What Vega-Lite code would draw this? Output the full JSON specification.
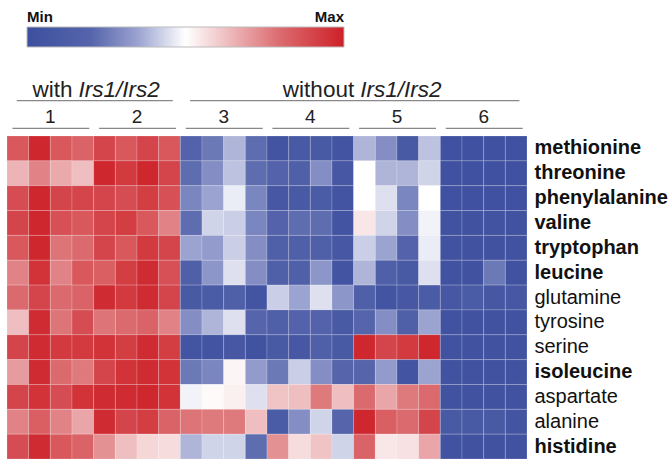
{
"$schema": "https://vega.github.io/schema/vega-lite/v6.json",
"width": 520, "height": 323,
"autosize": {"type": "none"},
"padding": {"left": 7, "top": 136, "right": 144, "bottom": 0},
"config": {"view": {"stroke": null}, "font": "Liberation Sans"},
"layer": [
{
"data": {"values": [
{"aa":"methionine","rep":1,"v":0.85},{"aa":"methionine","rep":2,"v":0.98},{"aa":"methionine","rep":3,"v":0.85},{"aa":"methionine","rep":4,"v":0.82},{"aa":"methionine","rep":5,"v":0.9},{"aa":"methionine","rep":6,"v":0.85},{"aa":"methionine","rep":7,"v":0.9},{"aa":"methionine","rep":8,"v":0.85},{"aa":"methionine","rep":9,"v":0.18},{"aa":"methionine","rep":10,"v":0.25},{"aa":"methionine","rep":11,"v":0.38},{"aa":"methionine","rep":12,"v":0.22},{"aa":"methionine","rep":13,"v":0.05},{"aa":"methionine","rep":14,"v":0.1},{"aa":"methionine","rep":15,"v":0.1},{"aa":"methionine","rep":16,"v":0.05},{"aa":"methionine","rep":17,"v":0.38},{"aa":"methionine","rep":18,"v":0.3},{"aa":"methionine","rep":19,"v":0.1},{"aa":"methionine","rep":20,"v":0.4},{"aa":"methionine","rep":21,"v":0.02},{"aa":"methionine","rep":22,"v":0.02},{"aa":"methionine","rep":23,"v":0.02},{"aa":"methionine","rep":24,"v":0.02},
{"aa":"threonine","rep":1,"v":0.65},{"aa":"threonine","rep":2,"v":0.75},{"aa":"threonine","rep":3,"v":0.67},{"aa":"threonine","rep":4,"v":0.63},{"aa":"threonine","rep":5,"v":0.98},{"aa":"threonine","rep":6,"v":0.93},{"aa":"threonine","rep":7,"v":0.98},{"aa":"threonine","rep":8,"v":0.9},{"aa":"threonine","rep":9,"v":0.22},{"aa":"threonine","rep":10,"v":0.3},{"aa":"threonine","rep":11,"v":0.4},{"aa":"threonine","rep":12,"v":0.22},{"aa":"threonine","rep":13,"v":0.18},{"aa":"threonine","rep":14,"v":0.15},{"aa":"threonine","rep":15,"v":0.3},{"aa":"threonine","rep":16,"v":0.08},{"aa":"threonine","rep":17,"v":0.5},{"aa":"threonine","rep":18,"v":0.38},{"aa":"threonine","rep":19,"v":0.38},{"aa":"threonine","rep":20,"v":0.43},{"aa":"threonine","rep":21,"v":0.02},{"aa":"threonine","rep":22,"v":0.02},{"aa":"threonine","rep":23,"v":0.02},{"aa":"threonine","rep":24,"v":0.02},
{"aa":"phenylalanine","rep":1,"v":0.88},{"aa":"phenylalanine","rep":2,"v":0.98},{"aa":"phenylalanine","rep":3,"v":0.9},{"aa":"phenylalanine","rep":4,"v":0.9},{"aa":"phenylalanine","rep":5,"v":0.9},{"aa":"phenylalanine","rep":6,"v":0.88},{"aa":"phenylalanine","rep":7,"v":0.92},{"aa":"phenylalanine","rep":8,"v":0.87},{"aa":"phenylalanine","rep":9,"v":0.28},{"aa":"phenylalanine","rep":10,"v":0.35},{"aa":"phenylalanine","rep":11,"v":0.47},{"aa":"phenylalanine","rep":12,"v":0.28},{"aa":"phenylalanine","rep":13,"v":0.08},{"aa":"phenylalanine","rep":14,"v":0.1},{"aa":"phenylalanine","rep":15,"v":0.12},{"aa":"phenylalanine","rep":16,"v":0.05},{"aa":"phenylalanine","rep":17,"v":0.5},{"aa":"phenylalanine","rep":18,"v":0.45},{"aa":"phenylalanine","rep":19,"v":0.28},{"aa":"phenylalanine","rep":20,"v":0.5},{"aa":"phenylalanine","rep":21,"v":0.02},{"aa":"phenylalanine","rep":22,"v":0.02},{"aa":"phenylalanine","rep":23,"v":0.02},{"aa":"phenylalanine","rep":24,"v":0.02},
{"aa":"valine","rep":1,"v":0.9},{"aa":"valine","rep":2,"v":0.98},{"aa":"valine","rep":3,"v":0.87},{"aa":"valine","rep":4,"v":0.85},{"aa":"valine","rep":5,"v":0.9},{"aa":"valine","rep":6,"v":0.92},{"aa":"valine","rep":7,"v":0.85},{"aa":"valine","rep":8,"v":0.75},{"aa":"valine","rep":9,"v":0.22},{"aa":"valine","rep":10,"v":0.43},{"aa":"valine","rep":11,"v":0.42},{"aa":"valine","rep":12,"v":0.28},{"aa":"valine","rep":13,"v":0.18},{"aa":"valine","rep":14,"v":0.22},{"aa":"valine","rep":15,"v":0.22},{"aa":"valine","rep":16,"v":0.05},{"aa":"valine","rep":17,"v":0.55},{"aa":"valine","rep":18,"v":0.43},{"aa":"valine","rep":19,"v":0.3},{"aa":"valine","rep":20,"v":0.48},{"aa":"valine","rep":21,"v":0.03},{"aa":"valine","rep":22,"v":0.03},{"aa":"valine","rep":23,"v":0.04},{"aa":"valine","rep":24,"v":0.03},
{"aa":"tryptophan","rep":1,"v":0.85},{"aa":"tryptophan","rep":2,"v":0.98},{"aa":"tryptophan","rep":3,"v":0.78},{"aa":"tryptophan","rep":4,"v":0.8},{"aa":"tryptophan","rep":5,"v":0.9},{"aa":"tryptophan","rep":6,"v":0.85},{"aa":"tryptophan","rep":7,"v":0.93},{"aa":"tryptophan","rep":8,"v":0.9},{"aa":"tryptophan","rep":9,"v":0.35},{"aa":"tryptophan","rep":10,"v":0.33},{"aa":"tryptophan","rep":11,"v":0.42},{"aa":"tryptophan","rep":12,"v":0.3},{"aa":"tryptophan","rep":13,"v":0.15},{"aa":"tryptophan","rep":14,"v":0.15},{"aa":"tryptophan","rep":15,"v":0.15},{"aa":"tryptophan","rep":16,"v":0.08},{"aa":"tryptophan","rep":17,"v":0.42},{"aa":"tryptophan","rep":18,"v":0.35},{"aa":"tryptophan","rep":19,"v":0.18},{"aa":"tryptophan","rep":20,"v":0.47},{"aa":"tryptophan","rep":21,"v":0.03},{"aa":"tryptophan","rep":22,"v":0.03},{"aa":"tryptophan","rep":23,"v":0.03},{"aa":"tryptophan","rep":24,"v":0.03},
{"aa":"leucine","rep":1,"v":0.75},{"aa":"leucine","rep":2,"v":0.95},{"aa":"leucine","rep":3,"v":0.75},{"aa":"leucine","rep":4,"v":0.85},{"aa":"leucine","rep":5,"v":0.83},{"aa":"leucine","rep":6,"v":0.92},{"aa":"leucine","rep":7,"v":0.97},{"aa":"leucine","rep":8,"v":0.87},{"aa":"leucine","rep":9,"v":0.15},{"aa":"leucine","rep":10,"v":0.32},{"aa":"leucine","rep":11,"v":0.45},{"aa":"leucine","rep":12,"v":0.3},{"aa":"leucine","rep":13,"v":0.15},{"aa":"leucine","rep":14,"v":0.15},{"aa":"leucine","rep":15,"v":0.32},{"aa":"leucine","rep":16,"v":0.05},{"aa":"leucine","rep":17,"v":0.38},{"aa":"leucine","rep":18,"v":0.15},{"aa":"leucine","rep":19,"v":0.1},{"aa":"leucine","rep":20,"v":0.45},{"aa":"leucine","rep":21,"v":0.03},{"aa":"leucine","rep":22,"v":0.03},{"aa":"leucine","rep":23,"v":0.25},{"aa":"leucine","rep":24,"v":0.03},
{"aa":"glutamine","rep":1,"v":0.8},{"aa":"glutamine","rep":2,"v":0.9},{"aa":"glutamine","rep":3,"v":0.8},{"aa":"glutamine","rep":4,"v":0.82},{"aa":"glutamine","rep":5,"v":0.97},{"aa":"glutamine","rep":6,"v":0.93},{"aa":"glutamine","rep":7,"v":0.97},{"aa":"glutamine","rep":8,"v":0.9},{"aa":"glutamine","rep":9,"v":0.1},{"aa":"glutamine","rep":10,"v":0.12},{"aa":"glutamine","rep":11,"v":0.15},{"aa":"glutamine","rep":12,"v":0.05},{"aa":"glutamine","rep":13,"v":0.42},{"aa":"glutamine","rep":14,"v":0.35},{"aa":"glutamine","rep":15,"v":0.45},{"aa":"glutamine","rep":16,"v":0.32},{"aa":"glutamine","rep":17,"v":0.15},{"aa":"glutamine","rep":18,"v":0.05},{"aa":"glutamine","rep":19,"v":0.08},{"aa":"glutamine","rep":20,"v":0.12},{"aa":"glutamine","rep":21,"v":0.08},{"aa":"glutamine","rep":22,"v":0.12},{"aa":"glutamine","rep":23,"v":0.08},{"aa":"glutamine","rep":24,"v":0.08},
{"aa":"tyrosine","rep":1,"v":0.63},{"aa":"tyrosine","rep":2,"v":0.97},{"aa":"tyrosine","rep":3,"v":0.78},{"aa":"tyrosine","rep":4,"v":0.88},{"aa":"tyrosine","rep":5,"v":0.78},{"aa":"tyrosine","rep":6,"v":0.8},{"aa":"tyrosine","rep":7,"v":0.82},{"aa":"tyrosine","rep":8,"v":0.75},{"aa":"tyrosine","rep":9,"v":0.3},{"aa":"tyrosine","rep":10,"v":0.38},{"aa":"tyrosine","rep":11,"v":0.45},{"aa":"tyrosine","rep":12,"v":0.2},{"aa":"tyrosine","rep":13,"v":0.15},{"aa":"tyrosine","rep":14,"v":0.18},{"aa":"tyrosine","rep":15,"v":0.18},{"aa":"tyrosine","rep":16,"v":0.1},{"aa":"tyrosine","rep":17,"v":0.2},{"aa":"tyrosine","rep":18,"v":0.3},{"aa":"tyrosine","rep":19,"v":0.15},{"aa":"tyrosine","rep":20,"v":0.35},{"aa":"tyrosine","rep":21,"v":0.03},{"aa":"tyrosine","rep":22,"v":0.03},{"aa":"tyrosine","rep":23,"v":0.03},{"aa":"tyrosine","rep":24,"v":0.03},
{"aa":"serine","rep":1,"v":0.9},{"aa":"serine","rep":2,"v":0.97},{"aa":"serine","rep":3,"v":0.93},{"aa":"serine","rep":4,"v":0.93},{"aa":"serine","rep":5,"v":0.95},{"aa":"serine","rep":6,"v":0.92},{"aa":"serine","rep":7,"v":0.97},{"aa":"serine","rep":8,"v":0.92},{"aa":"serine","rep":9,"v":0.05},{"aa":"serine","rep":10,"v":0.05},{"aa":"serine","rep":11,"v":0.08},{"aa":"serine","rep":12,"v":0.03},{"aa":"serine","rep":13,"v":0.1},{"aa":"serine","rep":14,"v":0.08},{"aa":"serine","rep":15,"v":0.15},{"aa":"serine","rep":16,"v":0.1},{"aa":"serine","rep":17,"v":0.98},{"aa":"serine","rep":18,"v":0.9},{"aa":"serine","rep":19,"v":0.93},{"aa":"serine","rep":20,"v":0.98},{"aa":"serine","rep":21,"v":0.03},{"aa":"serine","rep":22,"v":0.03},{"aa":"serine","rep":23,"v":0.03},{"aa":"serine","rep":24,"v":0.03},
{"aa":"isoleucine","rep":1,"v":0.7},{"aa":"isoleucine","rep":2,"v":0.97},{"aa":"isoleucine","rep":3,"v":0.8},{"aa":"isoleucine","rep":4,"v":0.77},{"aa":"isoleucine","rep":5,"v":0.9},{"aa":"isoleucine","rep":6,"v":0.95},{"aa":"isoleucine","rep":7,"v":0.97},{"aa":"isoleucine","rep":8,"v":0.95},{"aa":"isoleucine","rep":9,"v":0.25},{"aa":"isoleucine","rep":10,"v":0.28},{"aa":"isoleucine","rep":11,"v":0.52},{"aa":"isoleucine","rep":12,"v":0.33},{"aa":"isoleucine","rep":13,"v":0.25},{"aa":"isoleucine","rep":14,"v":0.42},{"aa":"isoleucine","rep":15,"v":0.3},{"aa":"isoleucine","rep":16,"v":0.2},{"aa":"isoleucine","rep":17,"v":0.2},{"aa":"isoleucine","rep":18,"v":0.33},{"aa":"isoleucine","rep":19,"v":0.05},{"aa":"isoleucine","rep":20,"v":0.35},{"aa":"isoleucine","rep":21,"v":0.03},{"aa":"isoleucine","rep":22,"v":0.03},{"aa":"isoleucine","rep":23,"v":0.03},{"aa":"isoleucine","rep":24,"v":0.03},
{"aa":"aspartate","rep":1,"v":0.9},{"aa":"aspartate","rep":2,"v":0.95},{"aa":"aspartate","rep":3,"v":0.88},{"aa":"aspartate","rep":4,"v":0.95},{"aa":"aspartate","rep":5,"v":0.97},{"aa":"aspartate","rep":6,"v":0.97},{"aa":"aspartate","rep":7,"v":0.98},{"aa":"aspartate","rep":8,"v":0.95},{"aa":"aspartate","rep":9,"v":0.48},{"aa":"aspartate","rep":10,"v":0.51},{"aa":"aspartate","rep":11,"v":0.53},{"aa":"aspartate","rep":12,"v":0.45},{"aa":"aspartate","rep":13,"v":0.62},{"aa":"aspartate","rep":14,"v":0.63},{"aa":"aspartate","rep":15,"v":0.77},{"aa":"aspartate","rep":16,"v":0.63},{"aa":"aspartate","rep":17,"v":0.8},{"aa":"aspartate","rep":18,"v":0.68},{"aa":"aspartate","rep":19,"v":0.77},{"aa":"aspartate","rep":20,"v":0.8},{"aa":"aspartate","rep":21,"v":0.03},{"aa":"aspartate","rep":22,"v":0.03},{"aa":"aspartate","rep":23,"v":0.03},{"aa":"aspartate","rep":24,"v":0.03},
{"aa":"alanine","rep":1,"v":0.75},{"aa":"alanine","rep":2,"v":0.83},{"aa":"alanine","rep":3,"v":0.75},{"aa":"alanine","rep":4,"v":0.68},{"aa":"alanine","rep":5,"v":0.97},{"aa":"alanine","rep":6,"v":0.9},{"aa":"alanine","rep":7,"v":0.92},{"aa":"alanine","rep":8,"v":0.82},{"aa":"alanine","rep":9,"v":0.78},{"aa":"alanine","rep":10,"v":0.77},{"aa":"alanine","rep":11,"v":0.77},{"aa":"alanine","rep":12,"v":0.63},{"aa":"alanine","rep":13,"v":0.12},{"aa":"alanine","rep":14,"v":0.3},{"aa":"alanine","rep":15,"v":0.43},{"aa":"alanine","rep":16,"v":0.2},{"aa":"alanine","rep":17,"v":0.98},{"aa":"alanine","rep":18,"v":0.83},{"aa":"alanine","rep":19,"v":0.8},{"aa":"alanine","rep":20,"v":0.9},{"aa":"alanine","rep":21,"v":0.1},{"aa":"alanine","rep":22,"v":0.1},{"aa":"alanine","rep":23,"v":0.1},{"aa":"alanine","rep":24,"v":0.05},
{"aa":"histidine","rep":1,"v":0.88},{"aa":"histidine","rep":2,"v":0.97},{"aa":"histidine","rep":3,"v":0.85},{"aa":"histidine","rep":4,"v":0.82},{"aa":"histidine","rep":5,"v":0.72},{"aa":"histidine","rep":6,"v":0.63},{"aa":"histidine","rep":7,"v":0.58},{"aa":"histidine","rep":8,"v":0.57},{"aa":"histidine","rep":9,"v":0.38},{"aa":"histidine","rep":10,"v":0.43},{"aa":"histidine","rep":11,"v":0.43},{"aa":"histidine","rep":12,"v":0.22},{"aa":"histidine","rep":13,"v":0.72},{"aa":"histidine","rep":14,"v":0.57},{"aa":"histidine","rep":15,"v":0.62},{"aa":"histidine","rep":16,"v":0.43},{"aa":"histidine","rep":17,"v":0.82},{"aa":"histidine","rep":18,"v":0.55},{"aa":"histidine","rep":19,"v":0.56},{"aa":"histidine","rep":20,"v":0.68},{"aa":"histidine","rep":21,"v":0.03},{"aa":"histidine","rep":22,"v":0.03},{"aa":"histidine","rep":23,"v":0.03},{"aa":"histidine","rep":24,"v":0.03}
]},
"mark": {"type": "rect", "stroke": "#ffffff", "strokeWidth": 0.6, "strokeOpacity": 0.3},
"encoding": {
"x": {"field": "rep", "type": "ordinal", "axis": null, "scale": {"domain": [1,2,3,4,5,6,7,8,9,10,11,12,13,14,15,16,17,18,19,20,21,22,23,24], "paddingInner": 0, "paddingOuter": 0}},
"y": {"field": "aa", "type": "nominal", "scale": {"domain": ["methionine","threonine","phenylalanine","valine","tryptophan","leucine","glutamine","tyrosine","serine","isoleucine","aspartate","alanine","histidine"], "paddingInner": 0, "paddingOuter": 0},
"axis": {"orient": "right", "title": null, "ticks": false, "domain": false, "labelPadding": 7, "labelFontSize": 20, "labelFont": "Liberation Sans", "labelColor": "#111111", "labelLimit": 200,
"labelFontWeight": {"condition": {"test": "indexof(['methionine','threonine','phenylalanine','valine','tryptophan','leucine','isoleucine','histidine'], datum.value) >= 0", "value": "bold"}, "value": "normal"}}},
"color": {"field": "v", "type": "quantitative",
"scale": {"type": "linear", "domain": [0, 0.2, 0.35, 0.5, 0.65, 0.8, 1], "range": ["#3d4f9f", "#5564ab", "#9ba3d0", "#ffffff", "#ecb4b6", "#db6a6e", "#cd2027"], "interpolate": "rgb"},
"legend": {"title": null, "orient": "none", "legendX": 20, "legendY": -109, "direction": "horizontal", "gradientLength": 317, "gradientThickness": 20, "values": [0, 1], "labelExpr": "datum.value < 0.5 ? 'Min' : 'Max'", "labelFontSize": 15, "labelFontWeight": "bold", "labelColor": "#111111", "labelBaseline": "top", "labelOffset": -37, "gradientStrokeColor": "#bbbbbb", "gradientStrokeWidth": 1}}
}
},
{
"layer": [
{
"data": {"values": [{"tier": "title", "name": "with", "tag": "Irs1/Irs2", "from": 1, "to": 8, "at": 4}, {"tier": "title", "name": "without", "tag": "Irs1/Irs2", "from": 9, "to": 24, "at": 17}]},
"layer": [
{"mark": {"type": "rule", "color": "#888888", "strokeWidth": 1.3, "yOffset": 3.4},
"encoding": {"x": {"field": "from", "type": "ordinal", "bandPosition": 0.45}, "x2": {"field": "to", "bandPosition": 0.65},
"y": {"field": "tier", "type": "nominal", "axis": null, "scale": {"type": "point", "domain": ["title", "group"], "range": [-38.7, -12.7], "padding": 0}}}},
{"mark": {"type": "text", "align": "right", "baseline": "alphabetic", "dx": -6, "fontSize": 22.5, "color": "#222222"},
"encoding": {"x": {"field": "at", "type": "ordinal", "bandPosition": 0.3}, "y": {"field": "tier", "type": "nominal", "axis": null}, "text": {"field": "name"}}},
{"mark": {"type": "text", "align": "left", "baseline": "alphabetic", "fontSize": 22.5, "fontStyle": "italic", "color": "#222222"},
"encoding": {"x": {"field": "at", "type": "ordinal", "bandPosition": 0.3}, "y": {"field": "tier", "type": "nominal", "axis": null}, "text": {"field": "tag"}}}
]
},
{
"data": {"values": [{"tier": "group", "grp": "1", "from": 1, "to": 4}, {"tier": "group", "grp": "2", "from": 5, "to": 8}, {"tier": "group", "grp": "3", "from": 9, "to": 12}, {"tier": "group", "grp": "4", "from": 13, "to": 16}, {"tier": "group", "grp": "5", "from": 17, "to": 20}, {"tier": "group", "grp": "6", "from": 21, "to": 24}]},
"layer": [
{"mark": {"type": "rule", "color": "#888888", "strokeWidth": 1.3, "yOffset": 5},
"encoding": {"x": {"field": "from", "type": "ordinal", "bandPosition": 0.25}, "x2": {"field": "to", "bandPosition": 0.8}, "y": {"field": "tier", "type": "nominal", "axis": null}}},
{"mark": {"type": "text", "align": "center", "baseline": "alphabetic", "fontSize": 19, "color": "#222222"},
"encoding": {"x": {"field": "from", "type": "ordinal", "bandPosition": 2}, "y": {"field": "tier", "type": "nominal", "axis": null}, "text": {"field": "grp"}}}
]
}
]
}
],
"resolve": {"scale": {"y": "independent"}}
}
